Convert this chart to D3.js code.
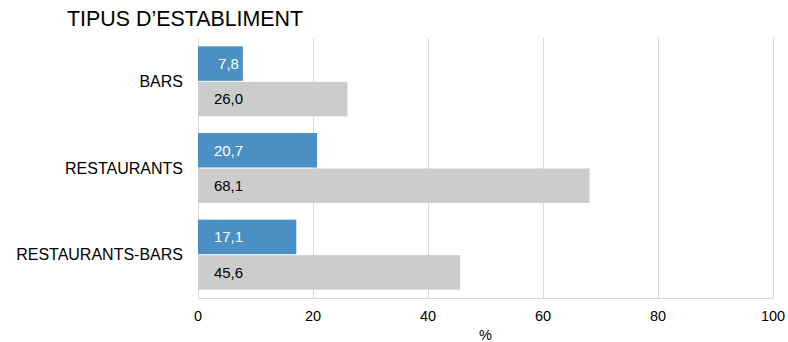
<!DOCTYPE html>
<html><head><meta charset="utf-8">
<script src="https://cdn.jsdelivr.net/npm/d3@7"></script>
<style>body{margin:0;background:#fff}svg{display:block}text{font-family:"Liberation Sans",Arial,sans-serif}</style>
</head><body>
<svg id="c" width="788" height="342"></svg>
<script>
const categories = ["BARS", "RESTAURANTS", "RESTAURANTS-BARS"];
const seriesA = [7.8, 20.7, 17.1];
const seriesB = [26.0, 68.1, 45.6];
const xTicks = [0, 20, 40, 60, 80, 100];
const title = "TIPUS D\u2019ESTABLIMENT";
const xLabel = "%";

const svg = d3.select("#c");
const m = {left: 198, right: 15, top: 38, bottom: 44};
const W = 788, H = 342;
const x = d3.scaleLinear().domain([0, 100]).range([m.left, W - m.right]);
const y = d3.scaleBand().domain(categories).range([m.top, H - m.bottom]).paddingInner(0.2).paddingOuter(0.1);
const fmt = v => v.toFixed(1).replace(".", ",");

svg.append("text").attr("x", 67).attr("y", 26).attr("font-size", 21.4).attr("fill", "#000").text(title);

const g = svg.append("g");
g.selectAll("line.grid").data(xTicks).join("line")
  .attr("x1", d => x(d)).attr("x2", d => x(d))
  .attr("y1", m.top).attr("y2", H - m.bottom)
  .attr("stroke", "#d9d9d9").attr("stroke-width", 1).attr("shape-rendering", "crispEdges");
g.append("line").attr("x1", m.left).attr("x2", x(100)).attr("y1", H - m.bottom).attr("y2", H - m.bottom)
  .attr("stroke", "#d9d9d9").attr("shape-rendering", "crispEdges");

const bw = 34.5;
const data = categories.map((c, i) => ({c, a: seriesA[i], b: seriesB[i]}));
const yc = d => y(d.c) + y.bandwidth() / 2;

g.selectAll("rect.a").data(data).join("rect")
  .attr("x", x(0)).attr("y", d => yc(d) - bw - 0.5).attr("width", d => x(d.a) - x(0)).attr("height", bw)
  .attr("fill", "#4a90c4");
g.selectAll("rect.b").data(data).join("rect")
  .attr("x", x(0)).attr("y", d => yc(d) + 0.5).attr("width", d => x(d.b) - x(0)).attr("height", bw)
  .attr("fill", "#cccccc");

g.selectAll("text.a").data(data).join("text")
  .attr("x", x(0) + 30.5).attr("y", d => yc(d) - bw / 2 - 0.5).attr("dy", "0.35em")
  .attr("text-anchor", "middle").attr("font-size", 15).attr("fill", "#fff").text(d => fmt(d.a));
g.selectAll("text.b").data(data).join("text")
  .attr("x", x(0) + 30.5).attr("y", d => yc(d) + bw / 2 + 0.5).attr("dy", "0.35em")
  .attr("text-anchor", "middle").attr("font-size", 15).attr("fill", "#000").text(d => fmt(d.b));

g.selectAll("text.cat").data(categories).join("text")
  .attr("x", m.left - 15).attr("y", d => y(d) + y.bandwidth() / 2).attr("dy", "0.35em")
  .attr("text-anchor", "end").attr("font-size", 16).attr("fill", "#000").text(d => d);

g.selectAll("text.tick").data(xTicks).join("text")
  .attr("x", d => x(d)).attr("y", 321).attr("text-anchor", "middle")
  .attr("font-size", 14.5).attr("fill", "#000").text(d => d);

svg.append("text").attr("x", (x(0) + x(100)) / 2).attr("y", 340).attr("text-anchor", "middle")
  .attr("font-size", 14.5).attr("fill", "#000").text(xLabel);
</script>
</body></html>
